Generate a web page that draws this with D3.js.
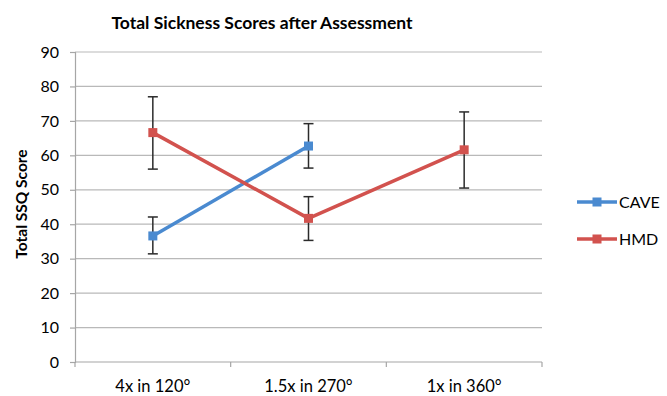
<!DOCTYPE html>
<html>
<head>
<meta charset="utf-8">
<script src="https://cdn.jsdelivr.net/npm/d3@7"></script>
<style>
  html, body { margin: 0; padding: 0; background: #fff; }
  svg { display: block; font-family: Lato, "Open Sans", sans-serif; }
</style>
</head>
<body>
<svg id="chart" width="667" height="396"></svg>
<script>
// Conditions on the x axis
const categories = ["4x in 120°", "1.5x in 270°", "1x in 360°"];
const yTicks = [0, 10, 20, 30, 40, 50, 60, 70, 80, 90];

// Mean total SSQ scores (null = condition not run)
const caveValues = [36.6, 62.7, null];
const hmdValues  = [66.6, 41.7, 61.6];

// Error bar extents [low, high]
const caveErrors = [[31.4, 42.1], [56.3, 69.2], null];
const hmdErrors  = [[56.0, 77.0], [35.3, 48.0], [50.5, 72.6]];

const seriesNames  = ["CAVE", "HMD"];
const seriesColors = ["#4A8AD0", "#D2524E"];

const svg = d3.select("#chart");
const plot = { left: 75, right: 542, top: 52, bottom: 362 };

const x = d3.scaleBand().domain(categories).range([plot.left, plot.right]);
const y = d3.scaleLinear().domain([0, 90]).range([plot.bottom, plot.top]);
const cx = c => x(c) + x.bandwidth() / 2;

// Title
svg.append("text")
  .attr("x", 262).attr("y", 29)
  .attr("text-anchor", "middle")
  .attr("font-size", 17.5).attr("font-weight", "bold").attr("fill", "#000")
  .text("Total Sickness Scores after Assessment");

// Horizontal gridlines
svg.append("g").selectAll("line").data(yTicks.filter(t => t > 0)).join("line")
  .attr("x1", plot.left).attr("x2", plot.right)
  .attr("y1", d => y(d)).attr("y2", d => y(d))
  .attr("stroke", "#b9b9b9").attr("stroke-width", 1.2);

// Y axis
const yAxis = svg.append("g")
  .attr("transform", `translate(${plot.left},0)`)
  .call(d3.axisLeft(y).tickValues(yTicks).tickSize(5).tickPadding(11));
yAxis.select(".domain").attr("stroke", "#a6a6a6").attr("stroke-width", 1.2);
yAxis.selectAll(".tick line").attr("stroke", "#a6a6a6").attr("stroke-width", 1.2);
yAxis.selectAll(".tick text").attr("font-size", 16).attr("fill", "#000")
  .attr("font-family", "Lato, 'Open Sans', sans-serif");

// X axis: ticks sit on the category boundaries
const xAxisG = svg.append("g").attr("transform", `translate(0,${plot.bottom})`);
xAxisG.append("line")
  .attr("x1", plot.left).attr("x2", plot.right)
  .attr("stroke", "#a6a6a6").attr("stroke-width", 1.2);
const boundaries = categories.map(c => x(c)).concat([plot.right]);
xAxisG.selectAll(".bt").data(boundaries).join("line").attr("class", "bt")
  .attr("x1", d => d).attr("x2", d => d).attr("y1", 0).attr("y2", 5)
  .attr("stroke", "#a6a6a6").attr("stroke-width", 1.2);
xAxisG.selectAll("text").data(categories).join("text")
  .attr("x", d => cx(d)).attr("y", 30)
  .attr("text-anchor", "middle").attr("font-size", 16.5).attr("fill", "#000")
  .text(d => d);

// Y axis title
svg.append("text")
  .attr("transform", `translate(27,${(plot.top + plot.bottom) / 2 - 3}) rotate(-90)`)
  .attr("text-anchor", "middle")
  .attr("font-size", 15.5).attr("font-weight", "bold").attr("fill", "#000")
  .text("Total SSQ Score");

const seriesData = [
  { name: seriesNames[0], color: seriesColors[0], values: caveValues, errors: caveErrors },
  { name: seriesNames[1], color: seriesColors[1], values: hmdValues, errors: hmdErrors }
];

// Error bars
const capW = 5;
seriesData.forEach(s => {
  const g = svg.append("g").attr("stroke", "#2b2b2b").attr("stroke-width", 1.5);
  s.errors.forEach((e, i) => {
    if (!e) return;
    const px = cx(categories[i]);
    g.append("line").attr("x1", px).attr("x2", px).attr("y1", y(e[0])).attr("y2", y(e[1]));
    g.append("line").attr("x1", px - capW).attr("x2", px + capW).attr("y1", y(e[0])).attr("y2", y(e[0]));
    g.append("line").attr("x1", px - capW).attr("x2", px + capW).attr("y1", y(e[1])).attr("y2", y(e[1]));
  });
});

// Lines and square markers
const line = d3.line()
  .defined(d => d.v != null)
  .x(d => cx(d.c)).y(d => y(d.v));

seriesData.forEach(s => {
  const pts = categories.map((c, i) => ({ c, v: s.values[i] }));
  svg.append("path").datum(pts)
    .attr("d", line).attr("fill", "none")
    .attr("stroke", s.color).attr("stroke-width", 3.5).attr("stroke-linejoin", "round");
  svg.append("g").selectAll("rect").data(pts.filter(d => d.v != null)).join("rect")
    .attr("x", d => cx(d.c) - 4.5).attr("y", d => y(d.v) - 4.5)
    .attr("width", 9).attr("height", 9).attr("fill", s.color);
});

// Legend
const legend = svg.append("g");
seriesData.forEach((s, i) => {
  const ly = 202 + i * 37;
  legend.append("line").attr("x1", 577).attr("x2", 617).attr("y1", ly).attr("y2", ly)
    .attr("stroke", s.color).attr("stroke-width", 3.5);
  legend.append("rect").attr("x", 597 - 4.5).attr("y", ly - 4.5).attr("width", 9).attr("height", 9)
    .attr("fill", s.color);
  legend.append("text").attr("x", 619).attr("y", ly + 6)
    .attr("font-size", 16).attr("fill", "#000").text(s.name);
});
</script>
</body>
</html>
